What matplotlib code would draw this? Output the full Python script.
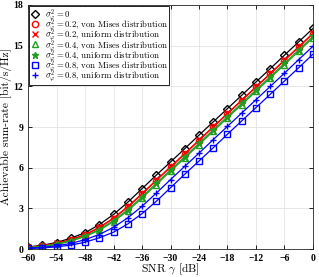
import numpy as np
import matplotlib.pyplot as plt

plt.rcParams['font.family'] = 'Liberation Serif'
plt.rcParams['mathtext.fontset'] = 'cm'

# SNR grid [dB]
snr = [-60, -57, -54, -51, -48, -45, -42, -39, -36, -33, -30,
       -27, -24, -21, -18, -15, -12, -9, -6, -3, 0]

# sum-rate [bit/s/Hz]
rate_s0 = [0.15, 0.28, 0.48, 0.80, 1.20, 1.80, 2.55, 3.45, 4.45, 5.45, 6.42,
           7.40, 8.40, 9.38, 10.36, 11.34, 12.32, 13.30, 14.30, 15.28, 16.27]
rate_s02_vm = [0.12, 0.23, 0.40, 0.67, 1.04, 1.56, 2.25, 3.09, 4.05, 5.05, 6.03,
               7.01, 8.00, 8.99, 9.97, 10.95, 11.93, 12.91, 13.90, 14.89, 15.87]
rate_s02_un = [0.12, 0.24, 0.41, 0.69, 1.07, 1.60, 2.29, 3.13, 4.09, 5.09, 6.07,
               7.05, 8.04, 9.03, 10.01, 10.99, 11.97, 12.95, 13.94, 14.93, 15.91]
rate_s04_vm = [0.09, 0.19, 0.34, 0.58, 0.92, 1.38, 2.02, 2.82, 3.75, 4.75, 5.74,
               6.71, 7.70, 8.69, 9.67, 10.65, 11.63, 12.61, 13.60, 14.59, 15.58]
rate_s04_un = [0.10, 0.20, 0.36, 0.61, 0.96, 1.44, 2.10, 2.91, 3.85, 4.85, 5.84,
               6.81, 7.80, 8.79, 9.77, 10.75, 11.73, 12.71, 13.70, 14.69, 15.68]
rate_s08_vm = [0.04, 0.08, 0.16, 0.29, 0.50, 0.83, 1.24, 1.85, 2.61, 3.52, 4.52,
               5.52, 6.49, 7.47, 8.47, 9.45, 10.43, 11.41, 12.39, 13.37, 14.37]
rate_s08_un = [0.06, 0.12, 0.24, 0.41, 0.69, 1.07, 1.60, 2.30, 3.15, 4.12, 5.12,
               6.10, 7.07, 8.07, 9.05, 10.03, 11.01, 11.99, 12.97, 13.97, 14.95]

labels = [r'$\sigma_\varphi^2 = 0$',
          r'$\sigma_\varphi^2 = 0.2$, von Mises distribution',
          r'$\sigma_\varphi^2 = 0.2$, uniform distribution',
          r'$\sigma_\varphi^2 = 0.4$, von Mises distribution',
          r'$\sigma_\varphi^2 = 0.4$, uniform distribution',
          r'$\sigma_\varphi^2 = 0.8$, von Mises distribution',
          r'$\sigma_\varphi^2 = 0.8$, uniform distribution']

green = '#1f9e1f'

fig = plt.figure(figsize=(3.19, 2.77), dpi=100)
ax = fig.add_axes([0.088, 0.101, 0.893, 0.881])

ax.plot(snr, rate_s0, color='k', marker='D', mfc='none', ms=4, lw=0.9, label=labels[0])
ax.plot(snr, rate_s02_vm, color='r', marker='o', mfc='none', ms=4.5, lw=0.9, label=labels[1])
ax.plot(snr, rate_s02_un, color='r', marker='x', ms=4, lw=0.9, label=labels[2])
ax.plot(snr, rate_s04_vm, color=green, marker='^', mfc='none', ms=4.5, lw=0.9, label=labels[3])
ax.plot(snr, rate_s04_un, color=green, marker='*', ms=5, lw=0.9, label=labels[4])
ax.plot(snr, rate_s08_vm, color='b', marker='s', mfc='none', ms=4, lw=0.9, label=labels[5])
ax.plot(snr, rate_s08_un, color='b', marker='+', ms=5, lw=0.9, label=labels[6])

ax.set_xlim(-60, 0)
ax.set_ylim(0, 18)
ax.set_xticks(np.arange(-60, 1, 6))
ax.set_yticks(np.arange(0, 19, 3))
ax.tick_params(direction='in', top=True, right=True, length=3, width=0.6,
               labelsize=7)
ax.tick_params(axis='x', pad=3.5)
ax.tick_params(axis='y', pad=3.5)
for t in ax.get_xticklabels() + ax.get_yticklabels():
    t.set_fontweight('bold')
ax.grid(True, color='#e3e3e3', lw=0.6)
ax.set_axisbelow(True)
for s in ax.spines.values():
    s.set_linewidth(0.6)
    s.set_color('#262626')

ax.set_xlabel(r'SNR $\gamma$ [dB]', fontsize=8.3, family='cmr10', labelpad=-1)
ax.set_ylabel('Achievable sum-rate [bit/s/Hz]', fontsize=8.3, family='cmr10',
              labelpad=1)

# rows packed tightly as in the reference
leg = ax.legend(loc='upper left', prop={'family': 'cmr10', 'size': 6.3},
                frameon=True, fancybox=False,
                edgecolor='k', framealpha=1, borderpad=0.1, labelspacing=-0.65,
                handlelength=1.2, handletextpad=0.5, borderaxespad=0.1)
leg.get_frame().set_linewidth(0.6)
for h in leg.legend_handles:
    h.set_linestyle('none')

fig.savefig('out.png', dpi=100)
